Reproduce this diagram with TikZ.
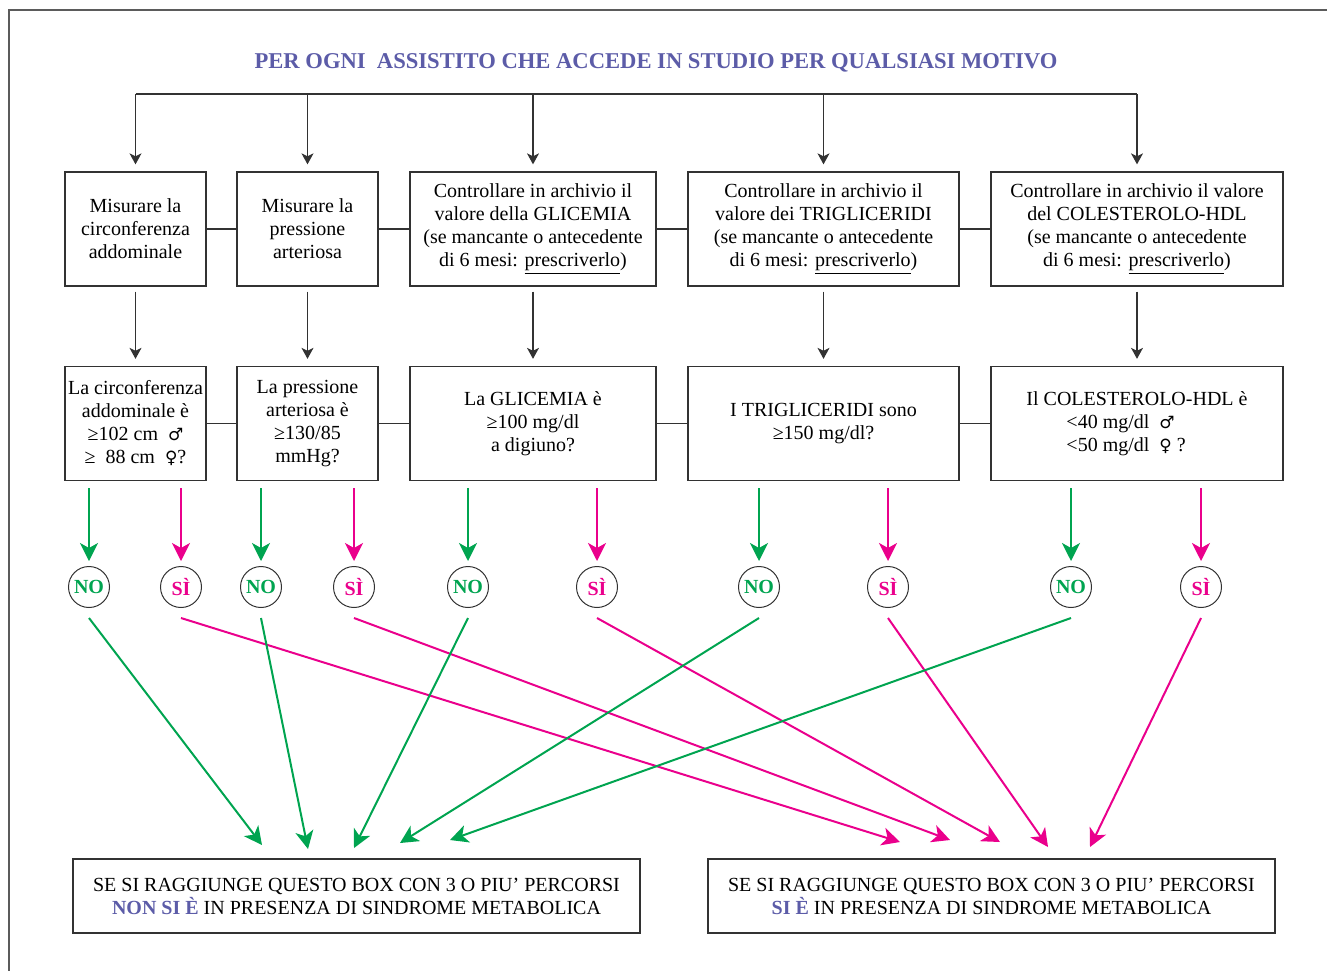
\documentclass[tikz,border=0pt]{standalone}
\usepackage{fontspec}
\setmainfont{Liberation Serif}
\newfontfamily\symfont{DejaVu Sans}
\usetikzlibrary{arrows.meta}
\definecolor{titlecol}{RGB}{92,92,168}
\definecolor{nocol}{RGB}{0,164,80}
\definecolor{sicol}{RGB}{234,0,140}
\definecolor{linecol}{RGB}{50,50,50}
\newcommand{\symmale}{{\symfont\fontsize{8.5}{10}\selectfont ♂}}
\newcommand{\symfemale}{{\symfont\fontsize{8.5}{10}\selectfont ♀}}
\begin{document}
\begin{tikzpicture}[x=0.5pt,y=-0.5pt,
  box/.style={draw=linecol,line width=0.65pt,inner sep=0pt,align=center,
    minimum height=57pt,font=\fontsize{10}{11.5}\selectfont},
  endbox/.style={draw=linecol,line width=0.65pt,inner sep=0pt,align=center,
    minimum width=283.5pt,minimum height=37pt,font=\fontsize{10}{11.5}\selectfont},
  answer/.style={circle,draw=linecol,line width=0.5pt,inner sep=0pt,
    minimum size=20.5pt,font=\fontsize{10}{12}\selectfont\bfseries},
  link/.style={linecol,line width=0.6pt},
  blkarrow/.style={link,-{Stealth[length=5.5pt,width=6pt,inset=1.5pt]}},
  noarrow/.style={nocol,line width=1pt,-{Stealth[length=9pt,width=9pt,inset=2.5pt]}},
  siarrow/.style={sicol,line width=1pt,-{Stealth[length=9pt,width=9pt,inset=2.5pt]}}]
\useasboundingbox (0,0) rectangle (1327,970);
% frame
\draw[linecol!80,line width=0.6pt] (9,990) -- (9,10) -- (1340,10);
\node[titlecol,font=\fontsize{11.3}{14}\selectfont\bfseries] (title) at (656,63)
  {PER OGNI\ \ ASSISTITO CHE ACCEDE IN STUDIO PER QUALSIASI MOTIVO};

% first row
\node[box,minimum width=70.5pt] (a1) at (135.5,229) {Misurare la\\circonferenza\\addominale};
\node[box,minimum width=70.5pt] (b1) at (307.5,229) {Misurare la\\pressione\\arteriosa};
\node[box,minimum width=123pt] (c1) at (533,229) {Controllare in archivio il\\valore della GLICEMIA\\(se mancante o antecedente\\di 6 mesi: \underline{prescriverlo})};
\node[box,minimum width=135.5pt] (d1) at (823.5,229) {Controllare in archivio il\\valore dei TRIGLICERIDI\\(se mancante o antecedente\\di 6 mesi: \underline{prescriverlo})};
\node[box,minimum width=146pt] (e1) at (1137,229) {Controllare in archivio il valore\\del COLESTEROLO-HDL\\(se mancante o antecedente\\di 6 mesi: \underline{prescriverlo})};

% second row
\node[box,minimum width=70.5pt] (a2) at (135.5,423.5) {La circonferenza\\addominale è\\≥102 cm\ \ \symmale\\≥\ \ 88 cm\ \ \symfemale?};
\node[box,minimum width=70.5pt] (b2) at (307.5,423.5) {La pressione\\arteriosa è\\≥130/85\\mmHg?};
\node[box,minimum width=123pt] (c2) at (533,423.5) {La GLICEMIA è\\≥100 mg/dl\\a digiuno?};
\node[box,minimum width=135.5pt] (d2) at (823.5,423.5) {I TRIGLICERIDI sono\\≥150 mg/dl?};
\node[box,minimum width=146pt,align=left] (e2) at (1137,423.5) {Il COLESTEROLO-HDL è\\\hspace*{20pt}<40 mg/dl\ \ \symmale\\\hspace*{20pt}<50 mg/dl\ \ \symfemale\ ?};

% answers
\node[answer,text=nocol] (na) at (89,587) {NO};
\node[answer,text=sicol] (sa) at (181,587) {SÌ};
\node[answer,text=nocol] (nb) at (261,587) {NO};
\node[answer,text=sicol] (sb) at (354,587) {SÌ};
\node[answer,text=nocol] (nc) at (468,587) {NO};
\node[answer,text=sicol] (sc) at (597,587) {SÌ};
\node[answer,text=nocol] (nd) at (759,587) {NO};
\node[answer,text=sicol] (sd) at (888,587) {SÌ};
\node[answer,text=nocol] (ne) at (1071,587) {NO};
\node[answer,text=sicol] (se) at (1201,587) {SÌ};

% final boxes
\node[endbox] (nobox) at (356.5,896) {SE SI RAGGIUNGE QUESTO BOX CON 3 O PIU’ PERCORSI\\\textcolor{titlecol}{\bfseries NON SI È} IN PRESENZA DI SINDROME METABOLICA};
\node[endbox] (sibox) at (991.5,896) {SE SI RAGGIUNGE QUESTO BOX CON 3 O PIU’ PERCORSI\\\textcolor{titlecol}{\bfseries SI È} IN PRESENZA DI SINDROME METABOLICA};

% arrow ends above the final boxes
\coordinate (pa) at (262,845);
\coordinate (pb) at (308,849);
\coordinate (pc) at (354,848);
\coordinate (pd) at (400,843);
\coordinate (pe) at (450,840);
\coordinate (qa) at (900,842);
\coordinate (qb) at (950,840);
\coordinate (qc) at (1000,842);
\coordinate (qd) at (1048,847);
\coordinate (qe) at (1090,847);

% top bus
\foreach \n in {a,b,c,d,e}
  \coordinate (t\n) at (\n1.north |- 0,94);
\draw[link] (ta) -- (te);
\foreach \n in {a,b,c,d,e} {
  \draw[blkarrow,shorten >=3.5pt] (t\n) -- (\n1);
  \draw[blkarrow,shorten <=2.5pt,shorten >=3.5pt] (\n1) -- (\n2);
}
\draw[link] (a1) -- (b1) -- (c1) -- (d1) -- (e1);
\draw[link] (a2) -- (b2) -- (c2) -- (d2) -- (e2);

% to the answers
\foreach \n/\q in {a/a2,b/b2,c/c2,d/d2,e/e2} {
  \draw[noarrow,shorten <=3.5pt,shorten >=2.5pt] (n\n |- \q.south) -- (n\n);
  \draw[siarrow,shorten <=3.5pt,shorten >=2.5pt] (s\n |- \q.south) -- (s\n);
  \draw[noarrow] ([yshift=-5pt]n\n.south) -- (p\n);
  \draw[siarrow] ([yshift=-5pt]s\n.south) -- (q\n);
}
\end{tikzpicture}
\end{document}
